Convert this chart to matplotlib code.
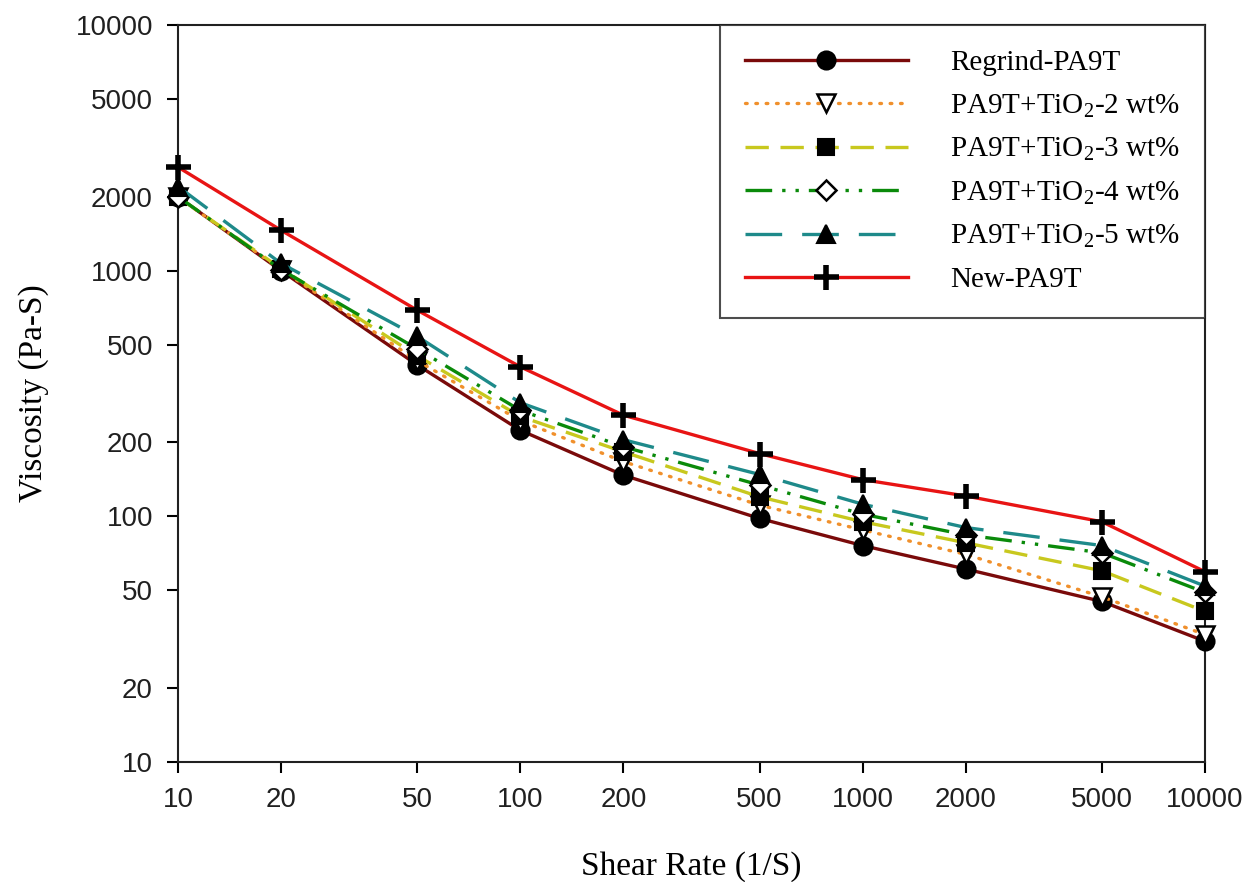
import matplotlib
matplotlib.use("Agg")
import matplotlib.pyplot as plt
from matplotlib.ticker import FixedLocator, FixedFormatter, NullLocator

# ==========================================================
# DATA
# ==========================================================
shear_rate = [10, 20, 50, 100, 200, 500, 1000, 2000, 5000, 10000]

regrind = [2000, 1000, 413, 224, 147, 98, 76, 61, 45, 31]
tio2_2 = [1990, 1010, 430, 245, 167, 111, 88, 70, 47, 33]
tio2_3 = [1995, 1020, 450, 255, 183, 120, 95, 78, 60, 41]
tio2_4 = [2000, 1010, 480, 270, 192, 134, 102, 84, 71, 49]
tio2_5 = [2200, 1070, 540, 290, 205, 148, 112, 90, 76, 52]
new_pa9t = [2640, 1460, 690, 406, 258, 180, 141, 121, 95, 59.5]

labels = [
    "Regrind-PA9T",
    "PA9T+TiO$_2$-2 wt%",
    "PA9T+TiO$_2$-3 wt%",
    "PA9T+TiO$_2$-4 wt%",
    "PA9T+TiO$_2$-5 wt%",
    "New-PA9T",
]

x_ticks = [10, 20, 50, 100, 200, 500, 1000, 2000, 5000, 10000]
y_ticks = [10, 20, 50, 100, 200, 500, 1000, 2000, 5000, 10000]

# ==========================================================
# STYLE
# ==========================================================
plt.rcParams['mathtext.fontset'] = 'custom'
plt.rcParams['mathtext.rm'] = 'Liberation Serif'
plt.rcParams['mathtext.it'] = 'Liberation Serif:italic'

series = [regrind, tio2_2, tio2_3, tio2_4, tio2_5, new_pa9t]
colors = ['#7a0a0a', '#f0902c', '#c8c81e', '#0a8a0a', '#1e8a8a', '#e81414']
dashes = [
    None,
    (0.5, 2.6),
    (7, 3.5),
    (8, 3, 1, 3, 1, 3),
    (11, 6),
    None,
]
markers = ['o', 'v', 's', 'D', '^', '+']
mfc = ['black', 'white', 'black', 'white', 'black', 'black']
msize = [13, 13, 12, 10, 13, 18]
mew = [1.5, 1.8, 1.5, 1.8, 1.5, 4.0]

fig = plt.figure(figsize=(12.47, 8.82), dpi=100)
ax = fig.add_axes([0.1427, 0.1361, 0.8236, 0.8356])

for i, ys in enumerate(series):
    line, = ax.plot(shear_rate, ys, color=colors[i], lw=2.4,
                    marker=markers[i], markersize=msize[i],
                    markerfacecolor=mfc[i], markeredgecolor='black',
                    markeredgewidth=mew[i], label=labels[i],
                    clip_on=False, zorder=3 + i)
    if dashes[i] is not None:
        line.set_dashes(dashes[i])
        if i == 1:
            line.set_dash_capstyle('round')

ax.set_xscale('log')
ax.set_yscale('log')
ax.set_xlim(10, 10000)
ax.set_ylim(10, 10000)

ax.xaxis.set_major_locator(FixedLocator(x_ticks))
ax.xaxis.set_major_formatter(FixedFormatter([str(v) for v in x_ticks]))
ax.xaxis.set_minor_locator(NullLocator())
ax.yaxis.set_major_locator(FixedLocator(y_ticks))
ax.yaxis.set_major_formatter(FixedFormatter([str(v) for v in y_ticks]))
ax.yaxis.set_minor_locator(NullLocator())

ax.tick_params(axis='both', direction='out', length=8, width=1.5,
               labelsize=20, top=False, right=False)
ax.tick_params(axis='x', pad=10)
ax.tick_params(axis='y', pad=10)
for lab in ax.get_xticklabels() + ax.get_yticklabels():
    lab.set_fontfamily('Liberation Sans')
    lab.set_color('#202020')

for sp in ax.spines.values():
    sp.set_linewidth(1.5)
    sp.set_color('#202020')

ax.set_xlabel('Shear Rate (1/S)', fontsize=24, fontfamily='Liberation Serif')
ax.set_ylabel('Viscosity (Pa-S)', fontsize=24, fontfamily='Liberation Serif')
ax.xaxis.set_label_coords(0.5, -0.121)
ax.yaxis.set_label_coords(-0.126, 0.5)

leg = ax.legend(loc='upper right', bbox_to_anchor=(1.0, 1.0),
                borderaxespad=0, fancybox=False, frameon=True,
                prop={'family': 'Liberation Serif', 'size': 21},
                handlelength=5.6, handletextpad=1.45, labelspacing=0.56,
                borderpad=0.85, markerscale=1.0)
leg.get_frame().set_edgecolor('#202020')
leg.get_frame().set_linewidth(1.5)
leg.set_zorder(20)

fig.savefig('out.png', dpi=100)
